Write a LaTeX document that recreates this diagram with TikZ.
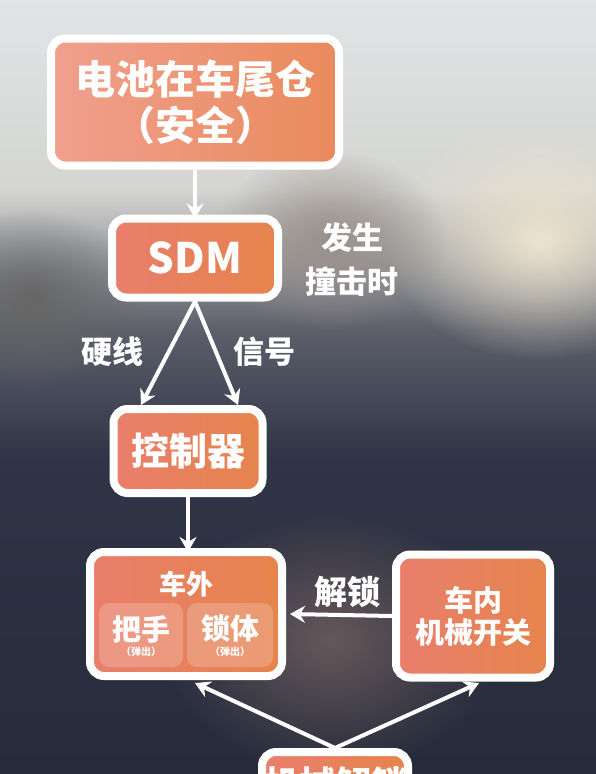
\documentclass[tikz,border=0pt]{standalone}
\usepackage{fontspec}
\setmainfont{Noto Sans CJK SC}
\usepackage{tikz}
\usetikzlibrary{positioning,arrows.meta,fadings}
\definecolor{bgTop}{HTML}{E1E5E6}
\definecolor{bgPale}{HTML}{D4D5D2}
\definecolor{bgGrey}{HTML}{5C5F6A}
\definecolor{bgNavy}{HTML}{2F3446}
\definecolor{bgDeep}{HTML}{272C3C}
\definecolor{glowBeige}{HTML}{EDE4CF}
\definecolor{glowBrown}{HTML}{66585A}
\definecolor{glowTaupe}{HTML}{9A908A}
\definecolor{boxLeft}{HTML}{E97E6C}
\definecolor{boxRight}{HTML}{E6844C}
\definecolor{paleLeft}{HTML}{F0A08E}
\definecolor{paleRight}{HTML}{E98A5C}
\tikzfading[name=softGlow, inner color=transparent!0, outer color=transparent!100]
\tikzstyle{flowBox} = [draw=white, line width=8pt, rounded corners=14pt, left color=boxLeft, right color=boxRight, text=white, align=center, inner sep=0pt]
\tikzstyle{paleBox} = [flowBox, left color=paleLeft, right color=paleRight]
\tikzstyle{subBox} = [fill=white, fill opacity=0.2, rounded corners=10pt, inner sep=0pt]
\tikzstyle{flowArrow} = [draw=white, line width=4pt, -{Stealth[length=15pt,width=17pt,inset=5pt]}]
\tikzstyle{edgeText} = [text=white, align=center, inner sep=0pt]
\newcommand{\sized}[2]{\bfseries\fontsize{#1}{#2}\selectfont}
\newcommand{\glow}[4]{\fill [#4, path fading=softGlow] (#1,#2) ellipse [x radius=#3*1.3, y radius=#3];}

\begin{document}
\begin{tikzpicture}[x=1pt, y=-1pt]
  \useasboundingbox (0,0) rectangle (596,774);
  \clip (0,0) rectangle (596,774);
  \shade [top color=bgTop, bottom color=bgPale] (0,0) rectangle (596,190);
  \shade [top color=bgPale, bottom color=bgGrey] (0,190) rectangle (596,330);
  \shade [top color=bgGrey, bottom color=bgNavy] (0,330) rectangle (596,460);
  \shade [top color=bgNavy, bottom color=bgDeep] (0,460) rectangle (596,774);
  \glow{540}{240}{120}{glowBeige}
  \glow{330}{240}{90}{glowTaupe}
  \glow{30}{300}{90}{black!60}
  \glow{330}{640}{130}{glowBrown}

  \node [paleBox, minimum width=288, minimum height=127, font=\sized{40}{46}] (batteryBox) at (195,102)
    {电池在车尾仓\\（安全）};
  \node [flowBox, minimum width=166, minimum height=79, font=\sized{42}{46}] (sdmBox) at (195,258)
    {SDM};
  \node [flowBox, minimum width=149, minimum height=84, font=\sized{38}{42}] (controllerBox) at (188,451)
    {控制器};
  \node [flowBox, minimum width=192, minimum height=124] (outsideBox) at (186,614) {};
  \node [flowBox, minimum width=154, minimum height=123, font=\sized{29}{32}] (insideBox) at (473,616)
    {车内\\机械开关};
  \node [flowBox, minimum width=146, minimum height=64, font=\sized{36}{40}] (mechLockBox) at (335,784)
    {机械解锁};

  \node [edgeText, font=\sized{27}{30}] (outsideTitle) at (186,584) {车外};
  \node [subBox, minimum width=84, minimum height=64] (handleBox) at (141,635) {};
  \node [subBox, minimum width=86, minimum height=64] (lockBodyBox) at (230,635) {};
  \node [edgeText, font=\sized{29}{32}] (handleText) at (141,629) {把手};
  \node [edgeText, below=4pt of handleText, font=\sized{10}{12}] {（弹出）};
  \node [edgeText, font=\sized{29}{32}] (lockBodyText) at (230,629) {锁体};
  \node [edgeText, below=4pt of lockBodyText, font=\sized{10}{12}] {（弹出）};

  \node [edgeText, font=\sized{31}{44}] (crashText) at (352,260) {发生\\撞击时};
  \node [edgeText, font=\sized{31}{34}] (hardLineText) at (112,352) {硬线};
  \node [edgeText, font=\sized{31}{34}] (signalText) at (264,352) {信号};
  \node [edgeText, font=\sized{33}{36}] (unlockText) at (347,592) {解锁};

  \coordinate (hardIn) at (141,405);
  \coordinate (signalIn) at (238,405);
  \coordinate (outsideIn) at (195,683);
  \coordinate (insideIn) at (479,683);

  \draw [flowArrow] (batteryBox.south) -- ([yshift=-4pt]sdmBox.north);
  \draw [flowArrow] (sdmBox.south) -- (hardIn);
  \draw [flowArrow] (sdmBox.south) -- (signalIn);
  \draw [flowArrow] (controllerBox.south) -- ([yshift=-4pt]controllerBox.south |- outsideBox.north);
  \draw [flowArrow] (insideBox.west) -- ([xshift=4pt]outsideBox.east);
  \draw [flowArrow] (mechLockBox.north) -- (outsideIn);
  \draw [flowArrow] (mechLockBox.north) -- (insideIn);
\end{tikzpicture}
\end{document}
